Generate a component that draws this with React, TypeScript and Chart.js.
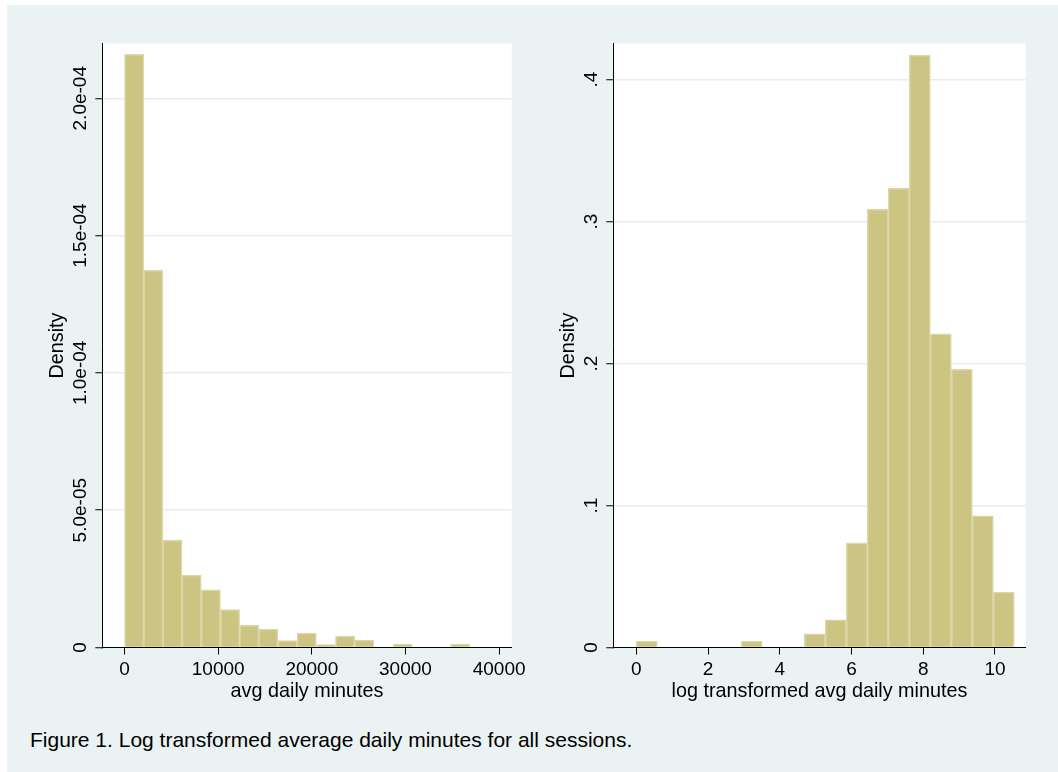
import React, { useEffect, useRef } from "react";
import { Chart, registerables } from "chart.js";

Chart.register(...registerables);

// ---------- data ----------
const leftBinCenters = [1024, 3072, 5120, 7168, 9216, 11264, 13312, 15360, 17408, 19456, 21504, 23552, 25600, 27648, 29696, 31744, 33792, 35840];
const leftDensity = [2.16e-4, 1.373e-4, 3.915e-5, 2.634e-5, 2.098e-5, 1.378e-5, 8.05e-6, 6.7e-6, 2.56e-6, 5.24e-6, 1.1e-6, 4.15e-6, 2.68e-6, 0, 1.22e-6, 0, 0, 1.22e-6];
const leftXTicks = [0, 10000, 20000, 30000, 40000];
const leftYTicks = [0, 5e-5, 1e-4, 1.5e-4, 2e-4];
const leftYTickLabels = ["0", "5.0e-05", "1.0e-04", "1.5e-04", "2.0e-04"];
const leftXTitle = "avg daily minutes";

const rightBinCenters = [0.293, 0.878, 1.464, 2.049, 2.635, 3.22, 3.806, 4.391, 4.977, 5.562, 6.148, 6.733, 7.319, 7.904, 8.49, 9.075, 9.661, 10.246];
const rightDensity = [0.0045, 0, 0, 0, 0, 0.0045, 0, 0, 0.0096, 0.0195, 0.0737, 0.3087, 0.3235, 0.4174, 0.2209, 0.196, 0.0927, 0.039];
const rightXTicks = [0, 2, 4, 6, 8, 10];
const rightYTicks = [0, 0.1, 0.2, 0.3, 0.4];
const rightYTickLabels = ["0", ".1", ".2", ".3", ".4"];
const rightXTitle = "log transformed avg daily minutes";

const yTitle = "Density";
const caption = "Figure 1. Log transformed average daily minutes for all sessions.";

// ---------- style ----------
const FONT = "'Liberation Sans', Arial, Helvetica, sans-serif";
const BG = "#eaf2f3";
const BAR_FILL = "#cbc483";
const BAR_EDGE = "#dcd7a6";
const GRID = "#e5edef";

type PanelCfg = {
  centers: number[];
  values: number[];
  xTicks: number[];
  yTicks: number[];
  yLabels: string[];
  xTitle: string;
  xMin: number;
  xMax: number;
  yMax: number;
  yAxisWidth: number;
  padRight: number;
};

const CANVAS_H = 715;
const PAD_TOP = 38.6;
const X_AXIS_H = 72.5;

const yTextPlugin = {
  id: "yText",
  beforeDraw(chart: any) {
    const { ctx, chartArea } = chart;
    ctx.save();
    ctx.fillStyle = "#ffffff";
    ctx.fillRect(chartArea.left, chartArea.top, chartArea.right - chartArea.left, chartArea.bottom - chartArea.top);
    ctx.restore();
  },
  afterDraw(chart: any) {
    const cfg = chart.options.plugins.yText as { labels: string[]; title: string };
    const ys = chart.scales.y;
    const { ctx, chartArea } = chart;
    const axisX = chartArea.left;
    ctx.save();
    ctx.fillStyle = "#000";
    ctx.textAlign = "center";
    ctx.textBaseline = "alphabetic";
    ctx.font = `19px ${FONT}`;
    ys.ticks.forEach((t: any, i: number) => {
      const py = ys.getPixelForValue(t.value);
      ctx.save();
      ctx.translate(axisX - 16, py);
      ctx.rotate(-Math.PI / 2);
      ctx.fillText(cfg.labels[i], 0, 0);
      ctx.restore();
    });
    ctx.font = `19.8px ${FONT}`;
    ctx.save();
    ctx.translate(axisX - 39.5, (chartArea.top + chartArea.bottom) / 2);
    ctx.rotate(-Math.PI / 2);
    ctx.fillText(cfg.title, 0, 0);
    ctx.restore();
    ctx.restore();
  },
};

function Panel({ cfg, left, width }: { cfg: PanelCfg; left: number; width: number }) {
  const ref = useRef<HTMLCanvasElement | null>(null);
  useEffect(() => {
    if (!ref.current) return;
    const chart = new Chart(ref.current, {
      type: "bar",
      data: {
        datasets: [
          {
            data: cfg.centers.map((c, i) => ({ x: c, y: cfg.values[i] })),
            backgroundColor: BAR_FILL,
            borderColor: BAR_EDGE,
            borderWidth: 1.5,
            barPercentage: 1,
            categoryPercentage: 1,
          } as any,
        ],
      },
      options: {
        animation: false,
        responsive: false,
        maintainAspectRatio: false,
        devicePixelRatio: 1,
        layout: { padding: { left: 0, top: PAD_TOP, right: cfg.padRight, bottom: 0 } },
        plugins: {
          legend: { display: false },
          tooltip: { enabled: false },
          yText: { labels: cfg.yLabels, title: yTitle },
        } as any,
        scales: {
          x: {
            type: "linear",
            min: cfg.xMin,
            max: cfg.xMax,
            offset: false,
            afterBuildTicks: (s: any) => {
              s.ticks = cfg.xTicks.map((v) => ({ value: v }));
            },
            afterFit: (s: any) => {
              s.height = X_AXIS_H;
            },
            grid: {
              display: true,
              offset: false,
              drawOnChartArea: false,
              drawTicks: true,
              tickLength: 7,
              tickColor: "#000",
              tickWidth: 1,
            },
            border: { display: true, color: "#000", width: 1 },
            ticks: {
              color: "#000",
              font: { family: FONT, size: 19 },
              padding: 4,
              maxRotation: 0,
              minRotation: 0,
              autoSkip: false,
              callback: (v: any) => String(v),
            },
            title: {
              display: true,
              text: cfg.xTitle,
              color: "#000",
              font: { family: FONT, size: 19.8 },
              padding: { top: 0, bottom: 17 },
            },
          },
          y: {
            type: "linear",
            min: 0,
            max: cfg.yMax,
            afterBuildTicks: (s: any) => {
              s.ticks = cfg.yTicks.map((v) => ({ value: v }));
            },
            afterFit: (s: any) => {
              s.width = cfg.yAxisWidth;
            },
            grid: {
              display: true,
              drawOnChartArea: true,
              drawTicks: true,
              tickLength: 7,
              tickColor: "#000",
              tickWidth: 1,
              lineWidth: 1.5,
              color: (c: any) => (c.tick && c.tick.value === 0 ? "rgba(0,0,0,0)" : GRID),
            },
            border: { display: true, color: "#000", width: 1 },
            ticks: { display: false },
          },
        },
      },
      plugins: [yTextPlugin],
    });
    return () => chart.destroy();
  }, []);
  return (
    <canvas
      ref={ref}
      width={width}
      height={CANVAS_H}
      style={{ position: "absolute", left, top: 5, width, height: CANVAS_H }}
    />
  );
}

const leftCfg: PanelCfg = {
  centers: leftBinCenters,
  values: leftDensity,
  xTicks: leftXTicks,
  yTicks: leftYTicks,
  yLabels: leftYTickLabels,
  xTitle: leftXTitle,
  xMin: -2373,
  xMax: 41345,
  yMax: 2.199e-4,
  yAxisWidth: 95.3,
  padRight: 15,
};

const rightCfg: PanelCfg = {
  centers: rightBinCenters,
  values: rightDensity,
  xTicks: rightXTicks,
  yTicks: rightYTicks,
  yLabels: rightYTickLabels,
  xTitle: rightXTitle,
  xMin: -0.641,
  xMax: 10.856,
  yMax: 0.4254,
  yAxisWidth: 83.3,
  padRight: 32.3,
};

export default function App() {
  return (
    <div style={{ position: "absolute", left: 0, top: 0, width: 1058, height: 772, overflow: "hidden", fontFamily: FONT }}>
      <div style={{ position: "absolute", left: 7, top: 5, width: 1051, height: 767, background: BG }} />
      <Panel cfg={leftCfg} left={7} width={523} />
      <Panel cfg={rightCfg} left={530} width={528} />
      <div
        style={{
          position: "absolute",
          left: 30,
          top: 728,
          fontSize: 21,
          lineHeight: "24px",
          color: "#000",
          whiteSpace: "nowrap",
        }}
      >
        {caption}
      </div>
    </div>
  );
}
